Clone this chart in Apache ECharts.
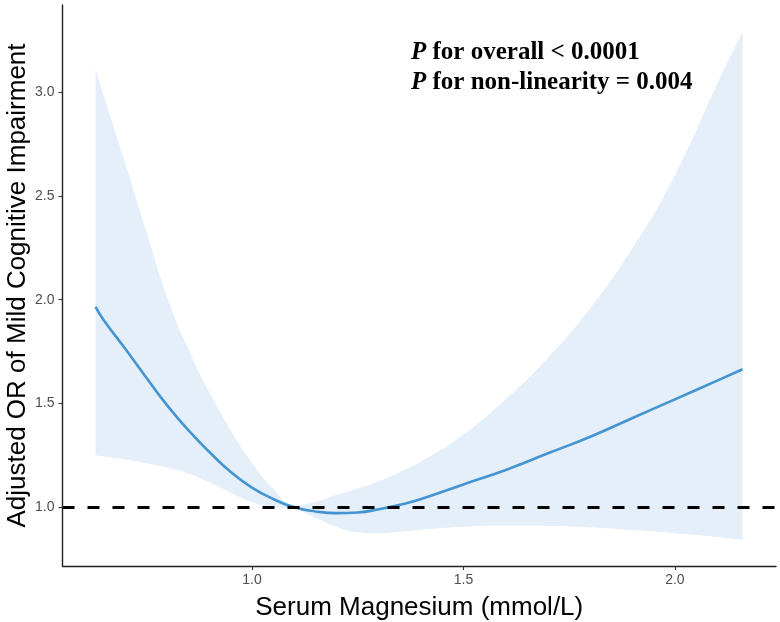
<!DOCTYPE html>
<html>
<head>
<meta charset="utf-8">
<script src="https://cdn.jsdelivr.net/npm/echarts@6/dist/echarts.min.js"></script>
<style>
html,body{margin:0;padding:0;background:#fff;}
#chart{width:780px;height:622px;}
</style>
</head>
<body>
<div id="chart"></div>
<script>
// Serum magnesium (mmol/L)
var magnesium = [0.63,0.65,0.70,0.75,0.80,0.85,0.90,0.95,1.00,1.05,1.10,1.15,1.20,1.25,1.30,1.35,1.40,1.50,1.60,1.70,1.80,1.90,2.00,2.10,2.16];
// Adjusted OR estimate
var orEstimate = [1.965,1.90,1.765,1.625,1.49,1.37,1.265,1.17,1.095,1.04,1.00,0.98,0.972,0.975,0.99,1.012,1.04,1.11,1.18,1.26,1.34,1.43,1.52,1.61,1.665];
// 95% CI lower bound
var ciLower = [1.25,1.245,1.23,1.212,1.19,1.162,1.12,1.07,1.025,1.0,0.99,0.95,0.905,0.88,0.876,0.882,0.892,0.906,0.912,0.91,0.903,0.89,0.875,0.857,0.843];
// 95% CI upper bound
var ciUpper = [3.11,2.98,2.66,2.33,2.01,1.76,1.55,1.37,1.215,1.09,1.01,1.025,1.06,1.09,1.125,1.17,1.22,1.35,1.52,1.72,1.96,2.25,2.60,3.04,3.29];
var xTicks = [1.0, 1.5, 2.0];
var yTicks = [1.0, 1.5, 2.0, 2.5, 3.0];
var refLine = 1.0;

// value first, x second so the stack applies to the value dimension
var lowerData = magnesium.map(function (x, i) { return [ciLower[i], x]; });
var bandData = magnesium.map(function (x, i) { return [ciUpper[i] - ciLower[i], x]; });
var lineData = magnesium.map(function (x, i) { return [x, orEstimate[i]]; });

var chart = echarts.init(document.getElementById('chart'), null, {renderer: 'canvas'});
var axisTextColor = '#4d4d4d';
chart.setOption({
  animation: false,
  backgroundColor: '#ffffff',
  grid: {left: 62.5, right: 4, top: 5, bottom: 56, containLabel: false, outerBoundsMode: 'none'},
  xAxis: {
    type: 'value',
    min: 0.552, max: 2.239,
    z: 10,
    name: 'Serum Magnesium (mmol/L)',
    nameLocation: 'middle',
    nameGap: 29,
    nameMoveOverlap: false,
    nameTextStyle: {fontFamily: 'Liberation Sans', fontSize: 26, color: '#000'},
    axisLine: {show: true, onZero: false, lineStyle: {color: '#222', width: 1.4}},
    axisTick: {show: true, length: 4, customValues: xTicks, lineStyle: {color: '#333', width: 1.1}},
    axisLabel: {customValues: xTicks, margin: 7, fontFamily: 'Liberation Sans', fontSize: 14, color: axisTextColor,
      formatter: function (v) { return v.toFixed(1); }},
    splitLine: {show: false}
  },
  yAxis: {
    type: 'value',
    min: 0.717, max: 3.42,
    z: 10,
    name: 'Adjusted OR of Mild Cognitive Impairment',
    nameLocation: 'middle',
    nameGap: 32,
    nameRotate: 90,
    nameMoveOverlap: false,
    nameTextStyle: {fontFamily: 'Liberation Sans', fontSize: 26, color: '#000'},
    axisLine: {show: true, onZero: false, lineStyle: {color: '#222', width: 1.4}},
    axisTick: {show: true, length: 4, customValues: yTicks, lineStyle: {color: '#333', width: 1.1}},
    axisLabel: {customValues: yTicks, margin: 8, fontFamily: 'Liberation Sans', fontSize: 14, color: axisTextColor,
      formatter: function (v) { return v.toFixed(1); }},
    splitLine: {show: false}
  },
  series: [
    {
      name: 'CI lower', type: 'line', data: lowerData, stack: 'ci',
      dimensions: ['v', 'x'], encode: {x: 'x', y: 'v'},
      smooth: 0.5, symbol: 'none', lineStyle: {opacity: 0}, silent: true, z: 1
    },
    {
      name: 'CI band', type: 'line', data: bandData, stack: 'ci',
      dimensions: ['v', 'x'], encode: {x: 'x', y: 'v'},
      smooth: 0.5, symbol: 'none', lineStyle: {opacity: 0},
      areaStyle: {color: '#e4eff9', opacity: 1}, silent: true, z: 1
    },
    {
      name: 'OR', type: 'line', data: lineData, smooth: 0.5, symbol: 'none',
      lineStyle: {color: '#4394d0', width: 2.6}, z: 3,
      markLine: {
        silent: true, symbol: 'none', label: {show: false},
        lineStyle: {color: '#000', width: 3, type: [12, 13]},
        data: [{yAxis: refLine}]
      }
    }
  ],
  graphic: [{
    type: 'text', left: 411, top: 38, z: 10,
    style: {
      text: '{p|P} for overall < 0.0001\n{p|P} for non-linearity = 0.004',
      fontFamily: 'Liberation Serif', fontSize: 25, fontWeight: 'bold', fill: '#000', lineHeight: 30,
      rich: {p: {fontFamily: 'Liberation Serif', fontSize: 25, fontWeight: 'bold', fontStyle: 'italic', fill: '#000', lineHeight: 30}}
    }
  }]
});
</script>
</body>
</html>
